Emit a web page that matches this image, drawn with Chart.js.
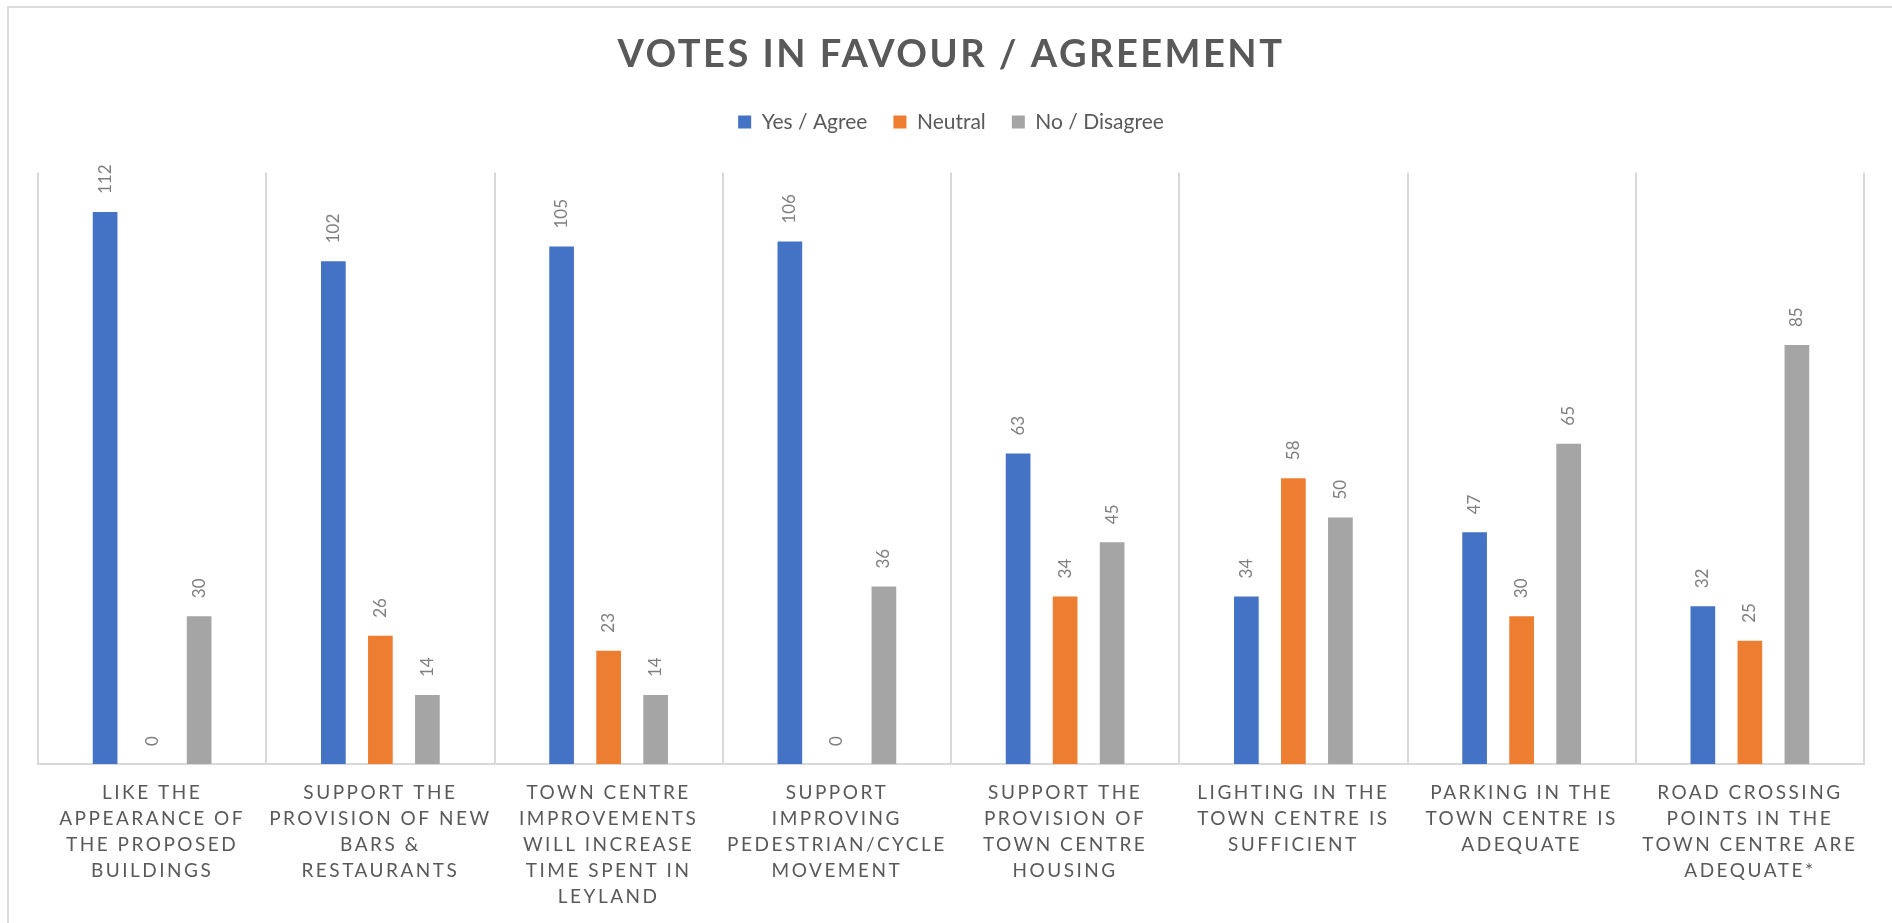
<!DOCTYPE html>
<html>
<head>
<meta charset="utf-8">
<script src="https://cdn.jsdelivr.net/npm/chart.js@4.4.1/dist/chart.umd.min.js"></script>
<style>
  html, body { margin: 0; padding: 0; background: #ffffff; }
  #wrap { position: relative; width: 1892px; height: 923px; overflow: hidden; }
  #frame { position: absolute; left: 7px; top: 6px; right: -10px; bottom: -10px;
           border-left: 2px solid #dcdcdc; border-top: 2px solid #dcdcdc; pointer-events: none; }
  canvas { position: absolute; left: 0; top: 0; }
</style>
</head>
<body>
<div id="wrap">
  <canvas id="c" width="1892" height="923"></canvas>
  <div id="frame"></div>
</div>
<script>
const chartTitle = 'VOTES IN FAVOUR / AGREEMENT';
const categories = [
  ['LIKE THE', 'APPEARANCE OF', 'THE PROPOSED', 'BUILDINGS'],
  ['SUPPORT THE', 'PROVISION OF NEW', 'BARS &', 'RESTAURANTS'],
  ['TOWN CENTRE', 'IMPROVEMENTS', 'WILL INCREASE', 'TIME SPENT IN', 'LEYLAND'],
  ['SUPPORT', 'IMPROVING', 'PEDESTRIAN/CYCLE', 'MOVEMENT'],
  ['SUPPORT THE', 'PROVISION OF', 'TOWN CENTRE', 'HOUSING'],
  ['LIGHTING IN THE', 'TOWN CENTRE IS', 'SUFFICIENT'],
  ['PARKING IN THE', 'TOWN CENTRE IS', 'ADEQUATE'],
  ['ROAD CROSSING', 'POINTS IN THE', 'TOWN CENTRE ARE', 'ADEQUATE*']
];
const seriesNames = ['Yes / Agree', 'Neutral', 'No / Disagree'];
const yesAgree   = [112, 102, 105, 106, 63, 34, 47, 32];
const neutral    = [0, 26, 23, 0, 34, 58, 30, 25];
const noDisagree = [30, 14, 14, 36, 45, 50, 65, 85];
const seriesColors = ['#4472C4', '#ED7D31', '#A5A5A5'];
const yMin = 0, yMax = 120;

const FONT = 'Lato, Carlito, "Open Sans", sans-serif';

const tweaks = {
  id: 'tweaks',
  beforeInit(chart) {
    const lg = chart.legend;
    if (lg) {
      const fit = lg.fit;
      lg.fit = function () { fit.call(this); this.height += 30; };
    }
    const tb = chart.titleBlock;
    if (tb) {
      const draw = tb.draw;
      tb.draw = function () {
        const c = this.ctx; const p = c.letterSpacing;
        c.letterSpacing = '2.5px'; draw.apply(this, arguments); c.letterSpacing = p || '0px';
      };
    }
  },
  afterUpdate(chart) {
    const sx = chart.scales.x;
    if (sx && !sx._lsWrapped) {
      const dl = sx.drawLabels;
      sx.drawLabels = function () {
        const c = this.ctx; const p = c.letterSpacing;
        c.letterSpacing = '2.5px'; dl.apply(this, arguments); c.letterSpacing = p || '0px';
      };
      sx._lsWrapped = true;
    }
  },
  afterDatasetsDraw(chart) {
    const ctx = chart.ctx;
    ctx.save();
    ctx.font = '17px ' + FONT;
    ctx.fillStyle = '#7F7F7F';
    ctx.textAlign = 'left';
    ctx.textBaseline = 'middle';
    chart.data.datasets.forEach((ds, di) => {
      const meta = chart.getDatasetMeta(di);
      meta.data.forEach((bar, i) => {
        ctx.save();
        ctx.translate(bar.x, bar.y - 18);
        ctx.rotate(-Math.PI / 2);
        ctx.fillText(String(ds.data[i]), 0, 0);
        ctx.restore();
      });
    });
    ctx.restore();
  }
};

new Chart(document.getElementById('c'), {
  type: 'bar',
  data: {
    labels: categories,
    datasets: [
      { label: seriesNames[0], data: yesAgree, backgroundColor: seriesColors[0] },
      { label: seriesNames[1], data: neutral, backgroundColor: seriesColors[1] },
      { label: seriesNames[2], data: noDisagree, backgroundColor: seriesColors[2] }
    ]
  },
  options: {
    responsive: false,
    animation: false,
    devicePixelRatio: 1,
    categoryPercentage: 0.618,
    barPercentage: 0.525,
    layout: { padding: { left: 38, right: 28, top: 0, bottom: 13 } },
    plugins: {
      title: {
        display: true,
        text: chartTitle,
        color: '#595959',
        font: { family: FONT, size: 38, weight: 'bold', lineHeight: 1.2 },
        padding: { top: 32, bottom: 8 }
      },
      legend: {
        display: true,
        position: 'top',
        labels: {
          color: '#595959',
          font: { family: FONT, size: 21 },
          boxWidth: 13,
          boxHeight: 13,
          padding: 26
        }
      },
      tooltip: { enabled: false }
    },
    scales: {
      x: {
        offset: true,
        grid: { display: true, offset: true, color: '#D9D9D9', lineWidth: 2, drawTicks: false },
        border: { display: true, color: '#D9D9D9', width: 2 },
        ticks: {
          color: '#595959',
          font: { family: FONT, size: 19, lineHeight: '26px' },
          padding: 16,
          maxRotation: 0,
          minRotation: 0,
          autoSkip: false
        },
        afterFit(scale) { scale.height = 146; }
      },
      y: {
        display: false,
        min: yMin,
        max: yMax
      }
    }
  },
  plugins: [tweaks]
});
</script>
</body>
</html>
